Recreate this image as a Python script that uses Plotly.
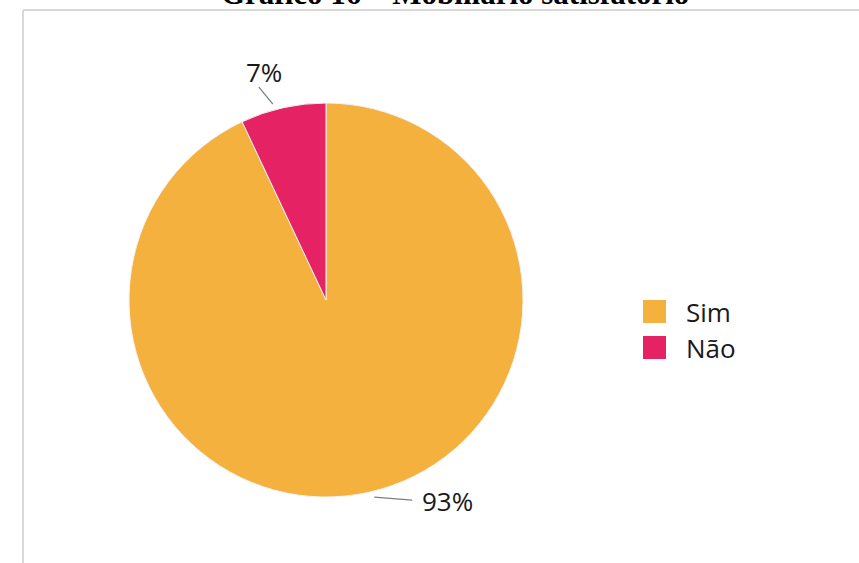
import math
import plotly.graph_objects as go

# Survey answers: is the furniture satisfactory?
labels = ["Sim", "Não"]
shares = [93, 7]
colors = ["#F4B13E", "#E52264"]
title_text = "Gráfico 16 – Mobiliário satisfatório"

W, H = 859, 563
cx, cy, R = 326, 300, 197   # pie centre and radius in pixels

fig = go.Figure()

fig.add_trace(go.Pie(
    labels=labels,
    values=shares,
    sort=False,
    direction="clockwise",
    rotation=0,
    marker=dict(colors=colors, line=dict(color="#f2f2f2", width=1)),
    textinfo="none",
    hoverinfo="label+percent",
    showlegend=False,
    domain=dict(x=[(cx - R) / W, (cx + R) / W], y=[(H - cy - R) / H, (H - cy + R) / H]),
))

# hidden pixel-space axes for the frame, leader lines, labels and legend
fig.add_trace(go.Scatter(x=[0, W], y=[0, H], mode="markers",
                         marker=dict(opacity=0), hoverinfo="skip", showlegend=False))

shapes = []
annotations = []

# outer frame (left and top edges)
shapes.append(dict(type="line", x0=23, y0=10, x1=23, y1=H, line=dict(color="#d9d9d9", width=2)))
shapes.append(dict(type="line", x0=23, y0=10, x1=W, y1=10, line=dict(color="#d9d9d9", width=2)))

# percentage labels with leader lines, anchored at each slice's mid-angle
total = sum(shares)
angle_nudge = [-0.02, -0.045]              # radians added to the mid-angle
label_offsets = [(38, 3), (-14, -17)]      # leader line end relative to its start
text_shift = [(35, 1), (5, -15)]           # label centre relative to leader end
start = 0.0
for i, v in enumerate(shares):
    frac = v / total
    mid = (start + frac / 2) * 2 * math.pi
    start += frac
    ang = mid + angle_nudge[i]
    px = cx + (R + 6) * math.sin(ang)
    py = cy - (R + 6) * math.cos(ang)
    ex, ey = px + label_offsets[i][0], py + label_offsets[i][1]
    shapes.append(dict(type="line", x0=px, y0=py, x1=ex, y1=ey,
                       line=dict(color="#7f7f7f", width=1.3)))
    annotations.append(dict(
        x=ex + text_shift[i][0], y=ey + text_shift[i][1], xref="x", yref="y",
        text=f"{round(100 * frac)}%", showarrow=False,
        font=dict(family="Open Sans", size=26, color="#1a1a1a"),
        xanchor="center", yanchor="middle"))

# legend
for i, lab in enumerate(labels):
    y0 = 300 + i * 36
    shapes.append(dict(type="rect", x0=643, x1=666, y0=y0, y1=y0 + 23,
                       fillcolor=colors[i], line=dict(width=0)))
    annotations.append(dict(x=684, y=y0 + 11.5, xref="x", yref="y", text=lab,
                            showarrow=False, xanchor="left", yanchor="middle",
                            font=dict(family="Open Sans", size=26, color="#1a1a1a")))

# chart title, partly clipped by the top of the page
annotations.append(dict(x=455 / W, y=1 + 6 / H, xref="paper", yref="paper",
                        text=f"<b>{title_text}</b>",
                        showarrow=False, xanchor="center", yanchor="middle",
                        font=dict(family="Liberation Serif", size=31, color="#000000")))

fig.update_layout(
    width=W, height=H,
    margin=dict(l=0, r=0, t=0, b=0),
    paper_bgcolor="white", plot_bgcolor="rgba(0,0,0,0)",
    xaxis=dict(range=[0, W], visible=False, fixedrange=True),
    yaxis=dict(range=[H, 0], visible=False, fixedrange=True),
    shapes=shapes,
    annotations=annotations,
)

fig.write_html("out.html")
